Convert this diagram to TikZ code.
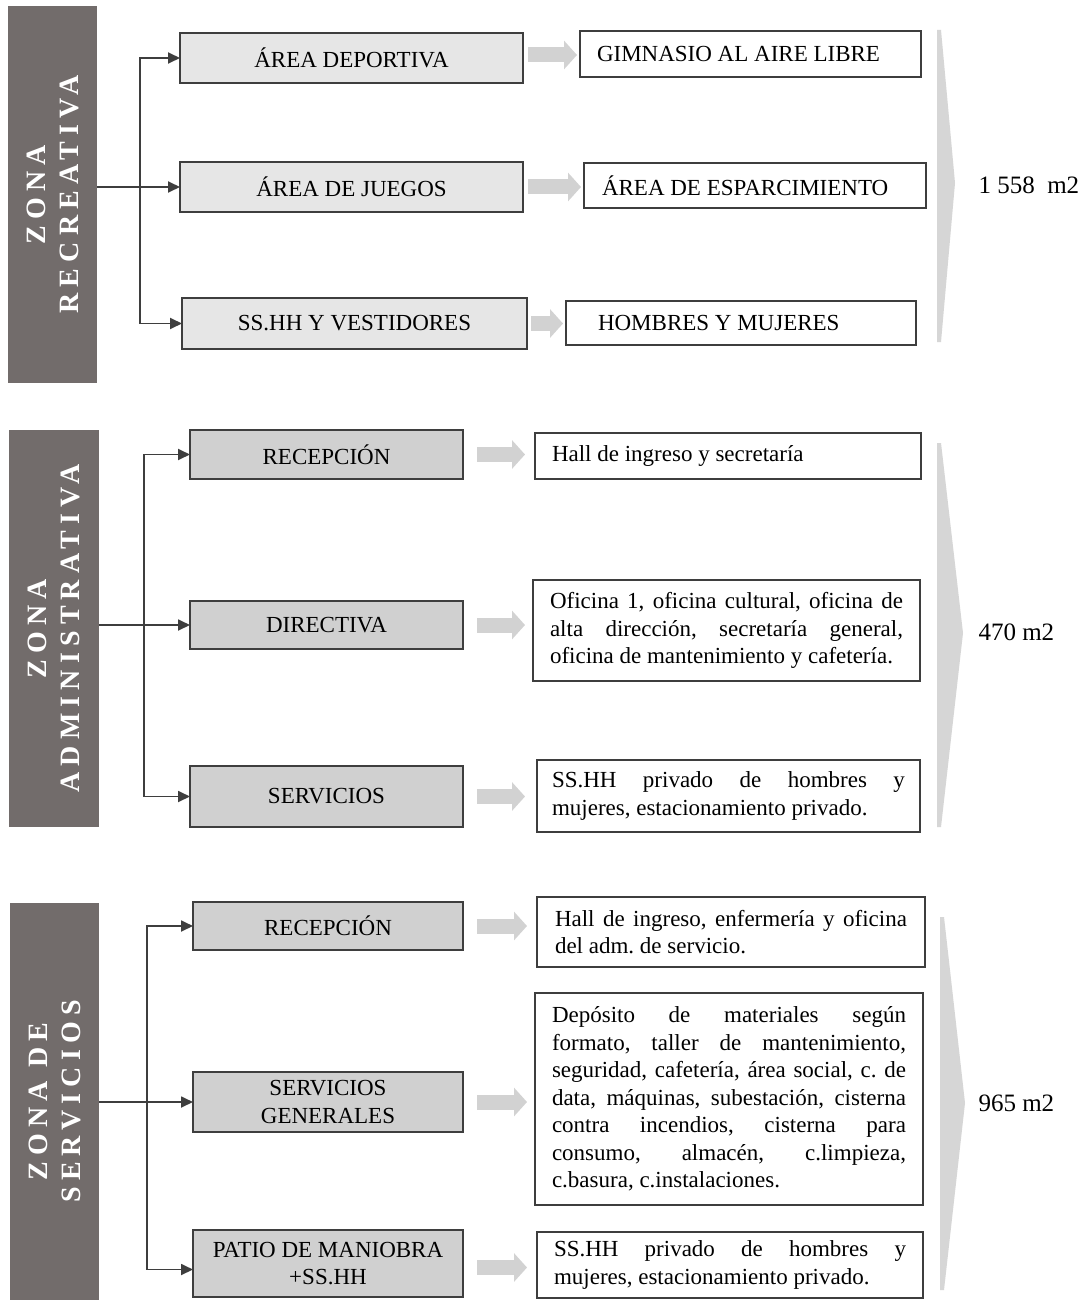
\documentclass[tikz,border=0pt]{standalone}
\usepackage{fontspec}
\setmainfont{Liberation Serif}
\newfontfamily\zonefont[LetterSpace=22]{Liberation Serif Bold}
\usepackage{tikz}
\usetikzlibrary{arrows.meta,calc,positioning}
\definecolor{zonegray}{RGB}{114,108,107}
\definecolor{boxlight}{RGB}{230,230,230}
\definecolor{boxmid}{RGB}{208,208,208}
\definecolor{linegray}{RGB}{62,62,62}
\definecolor{arrowgray}{RGB}{210,210,210}
\definecolor{chevgray}{RGB}{214,214,214}
\frenchspacing

\begin{document}
\begin{tikzpicture}[x=1pt,y=-1pt,font=\fontsize{23}{27.5}\selectfont,
    zonebar/.style={fill=zonegray,rotate=90,align=center,text=white,inner sep=0pt,outer sep=0pt,
      font=\zonefont\fontsize{28}{33}\selectfont},
    leftbox/.style={draw=linegray,line width=1.8pt,anchor=north west,align=center,inner sep=0pt,outer sep=0pt},
    lightbox/.style={leftbox,fill=boxlight},
    midbox/.style={leftbox,fill=boxmid},
    descbox/.style={draw=linegray,line width=1.8pt,fill=white,anchor=north west,align=justify,
      inner xsep=17pt,inner ysep=0pt,outer sep=0pt,
      execute at begin node={\tolerance=10000\hbadness=10000\relax}},
    link/.style={draw=linegray,line width=1.8pt,-{Triangle[length=12pt,width=11pt]}},
    fatarrow/.style={draw=arrowgray,line width=15pt,-{Triangle[length=13pt,width=28pt]}},
    chevron/.style={fill=chevgray,draw=none},
    areatext/.style={anchor=west,font=\fontsize{25}{30}\selectfont}]
    \path[fill=white,use as bounding box] (0,0) rectangle (1089,1300);

    % zona recreativa
    \node[zonebar,minimum width=377pt,minimum height=89pt] (z1) at (52.5,194.5) {ZONA\\RECREATIVA};
    \node[lightbox,minimum width=343pt,minimum height=50pt] (b11) at (180,33) {ÁREA DEPORTIVA};
    \node[lightbox,minimum width=343pt,minimum height=50pt] (b12) at (180,162) {ÁREA DE JUEGOS};
    \node[lightbox,minimum width=345pt,minimum height=51pt] (b13) at (182,298) {SS.HH Y VESTIDORES};
    \node[descbox,text width=307pt,minimum height=46pt] (r11) at (580,31) {GIMNASIO AL AIRE LIBRE};
    \node[descbox,inner xsep=18pt,text width=306pt,minimum height=45pt] (r12) at (584,163) {ÁREA DE ESPARCIMIENTO};
    \node[descbox,inner xsep=32pt,text width=286pt,minimum height=44pt] (r13) at (566,301) {HOMBRES Y MUJERES};
    \coordinate (j1) at ($(b12.west)+(-40,0)$);
    \draw[link] (z1.south |- b12.west) -- (b12.west);
    \draw[link] (j1) |- (b11.west);
    \draw[link] (j1) |- (b13.west);
    \draw[fatarrow,shorten <=5pt,shorten >=3pt] ([yshift=3pt]b11.east) -- ([yshift=3pt]b11.east -| r11.west);
    \draw[fatarrow,shorten <=5pt,shorten >=3pt] (b12.east) -- (b12.east -| r12.west);
    \draw[fatarrow,shorten <=4pt,shorten >=3pt] (b13.east) -- (b13.east -| r13.west);
    \fill[chevron] (937,30) -- (941,30) -- (955,183) -- (941,342) -- (937,342) -- cycle;
    \node[areatext] (a1) at (975,185) {1~558\ \ m2};

    % zona administrativa
    \node[zonebar,minimum width=397pt,minimum height=90pt] (z2) at (54,628.5) {ZONA\\ADMINISTRATIVA};
    \node[midbox,minimum width=273pt,minimum height=49pt] (b21) at (190,430) {RECEPCIÓN};
    \node[midbox,minimum width=273pt,minimum height=48pt] (b22) at (190,601) {DIRECTIVA};
    \node[midbox,minimum width=273pt,minimum height=61pt] (b23) at (190,766) {SERVICIOS};
    \node[descbox,text width=352pt,minimum height=46pt] (r21) at (535,433) {Hall de ingreso y secretaría};
    \node[descbox,text width=353pt,minimum height=101pt] (r22) at (533,580)
      {Oficina 1, oficina cultural, oficina de\linebreak alta dirección, secretaría general,\linebreak oficina de mantenimiento y cafetería.};
    \node[descbox,inner xsep=15pt,text width=353pt,minimum height=72pt] (r23) at (537,760)
      {SS.HH privado de hombres y\linebreak mujeres, estacionamiento privado.};
    \coordinate (j2) at ($(b22.west)+(-46,0)$);
    \draw[link] (z2.south |- b22.west) -- (b22.west);
    \draw[link] (j2) |- (b21.west);
    \draw[link] (j2) |- (b23.west);
    \draw[fatarrow,shorten <=14pt,shorten >=10pt] (b21.east) -- (b21.east -| r21.west);
    \draw[fatarrow,shorten <=14pt,shorten >=8pt] (b22.east) -- (b22.east -| r22.west);
    \draw[fatarrow,shorten <=14pt,shorten >=12pt] (b23.east) -- (b23.east -| r23.west);
    \fill[chevron] (937,443) -- (941,443) -- (963,633) -- (941,827) -- (937,827) -- cycle;
    \node[areatext] (a2) at (975,632) {470 m2};

    % zona de servicios
    \node[zonebar,minimum width=397pt,minimum height=89pt] (z3) at (54.5,1101.5) {ZONA DE\\SERVICIOS};
    \node[midbox,minimum width=270pt,minimum height=48pt] (b31) at (193,902) {RECEPCIÓN};
    \node[midbox,minimum width=270pt,minimum height=60pt] (b32) at (193,1072) {SERVICIOS\\GENERALES};
    \node[midbox,minimum width=270pt,minimum height=67pt] (b33) at (193,1230) {PATIO DE MANIOBRA\\+SS.HH};
    \node[descbox,inner xsep=18pt,text width=352pt,minimum height=70pt] (r31) at (537,897)
      {Hall de ingreso, enfermería y oficina\linebreak del adm. de servicio.};
    \node[descbox,text width=354pt,minimum height=212pt] (r32) at (535,993)
      {Depósito de materiales según\linebreak formato, taller de mantenimiento,\linebreak
       seguridad, cafetería, área social, c. de\linebreak data, máquinas, subestación, cisterna\linebreak
       contra incendios, cisterna para\linebreak consumo, almacén, c.limpieza,\linebreak
       c.basura, c.instalaciones.};
    \node[descbox,text width=352pt,minimum height=66pt] (r33) at (537,1232)
      {SS.HH privado de hombres y\linebreak mujeres, estacionamiento privado.};
    \coordinate (j3) at ($(b32.west)+(-46,0)$);
    \draw[link] (z3.south |- b32.west) -- (b32.west);
    \draw[link] (j3) |- (b31.west);
    \draw[link] (j3) |- ([yshift=-6pt]b33.west);
    \draw[fatarrow,shorten <=14pt,shorten >=10pt] (b31.east) -- (b31.east -| r31.west);
    \draw[fatarrow,shorten <=14pt,shorten >=8pt] (b32.east) -- (b32.east -| r32.west);
    \draw[fatarrow,shorten <=14pt,shorten >=10pt] ([yshift=-4pt]b33.east) -- ([yshift=-4pt]b33.east -| r33.west);
    \fill[chevron] (940,917) -- (944,917) -- (965,1103) -- (944,1290) -- (940,1290) -- cycle;
    \node[areatext] (a3) at (975,1103) {965 m2};
  \end{tikzpicture}
\end{document}
